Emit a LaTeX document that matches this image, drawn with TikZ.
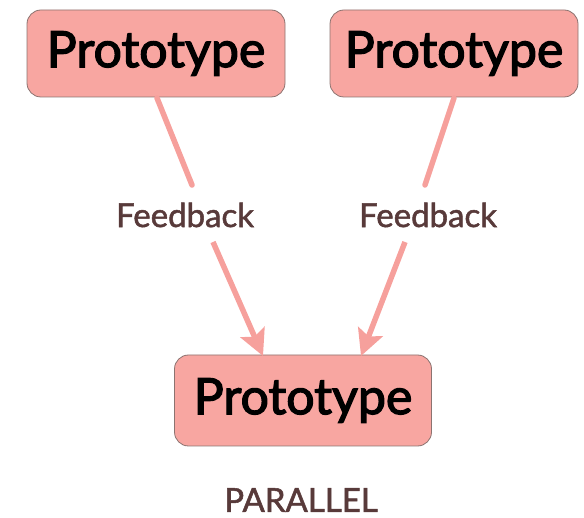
\documentclass[tikz,border=0pt]{standalone}
\usepackage{fontspec}
\setmainfont{Lato}
\newfontfamily\medfont{Lato}[FakeBold=1.6]
\newfontfamily\heavyfont{Lato}[FakeBold=2.6]
\usetikzlibrary{arrows.meta}
\definecolor{boxfill}{RGB}{248,166,161}
\definecolor{boxline}{RGB}{140,115,112}
\definecolor{linkc}{RGB}{246,160,156}
\definecolor{labc}{RGB}{88,58,58}
\tikzset{
  protobox/.style={draw=boxline, line width=0.8pt, fill=boxfill, rounded corners=14pt,
    inner sep=0pt, font=\heavyfont\fontsize{50}{50}\selectfont, text=black},
  fblabel/.style={inner sep=0pt, font=\medfont\fontsize{33}{33}\selectfont, text=labc},
  link/.style={draw=linkc, line width=5.5pt},
  arrowlink/.style={link, -{Stealth[length=26pt,width=26pt,inset=5pt]}}
}
\begin{document}
\begin{tikzpicture}[x=1pt,y=-1pt]
\useasboundingbox (0,0) rectangle (584,518);
\node[protobox, minimum width=258pt, minimum height=87pt] (b1) at (156,53.5) {Prototype};
\node[protobox, minimum width=248pt, minimum height=87pt] (b2) at (454,53.5) {Prototype};
\node[protobox, minimum width=257pt, minimum height=91pt] (b3) at (303,400.5) {Prototype};
\node[fblabel] (f1) at (185,215) {Feedback};
\node[fblabel] (f2) at (428,215) {Feedback};
\node[inner sep=0pt, font=\medfont\fontsize{33}{33}\selectfont, text=labc] (par) at (301,500) {PARALLEL};
\coordinate (s1) at (157,98);
\coordinate (e1) at (192,185);
\coordinate (s2) at (454,98);
\coordinate (e2) at (425,185);
\coordinate (t1s) at (213,242);
\coordinate (t1e) at (263,356);
\coordinate (t2s) at (405,242);
\coordinate (t2e) at (361,356);
\draw[link, line cap=round] (s1) -- (e1);
\draw[link, line cap=round] (s2) -- (e2);
\draw[arrowlink] (t1s) -- (t1e);
\draw[arrowlink] (t2s) -- (t2e);
\end{tikzpicture}
\end{document}
